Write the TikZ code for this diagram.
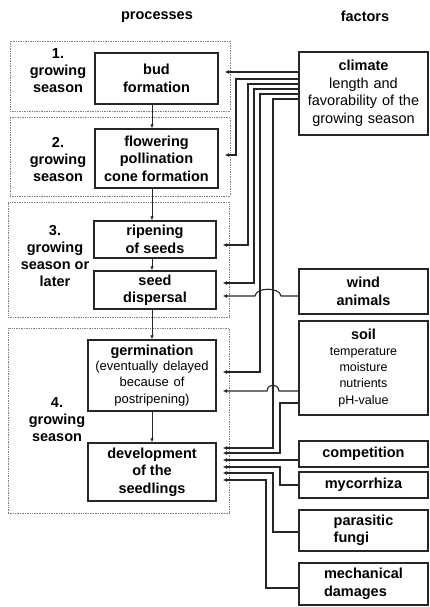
\documentclass[tikz,border=0pt]{standalone}
\usepackage{fontspec}
\setmainfont{Liberation Sans}
\usetikzlibrary{%
	positioning,
	arrows.meta
}

\begin{document}
\begin{tikzpicture}[
		x=1pt,y=-1pt,
		PBox/.style={draw=black!85,line width=1.4pt,shape=rectangle,inner sep=0pt,align=center,font=\fontsize{14.5}{17.5}\selectfont\bfseries},
		FBox/.style={PBox,minimum width=129pt},
		phase/.style={draw=black!50,densely dotted,line width=0.7pt,inner sep=0pt},
		plabel/.style={align=center,inner sep=0pt,font=\fontsize{14.5}{17}\selectfont\bfseries},
		title/.style={inner sep=0pt,font=\fontsize{14.5}{17}\selectfont\bfseries},
		arr/.style={draw=black!85,line width=1.1pt,-{Latex[length=4.5pt,width=4pt]},shorten >=6pt},
		varr/.style={draw=black!85,line width=0.9pt,-{Latex[length=4pt,width=3.5pt]}}
	]
	\useasboundingbox (0,0) rectangle (429,607);
	
	\node (procT) [title] at (157,17) {processes};
	\node (factT) [title] at (365,16) {factors};
	
	%phases
	\node (ph1) [phase, minimum width=220pt, minimum height=70pt] at (120,76) {};
	\node (ph2) [phase, minimum width=220pt, minimum height=79pt] at (120,156.5) {};
	\node (ph3) [phase, minimum width=221pt, minimum height=115pt] at (118.5,259.5) {};
	\node (ph4) [phase, minimum width=221pt, minimum height=185pt] at (118.5,420.5) {};
	
	\node (lab1) [plabel] at (58,71) {1.\\growing\\season};
	\node (lab2) [plabel] at (58,160) {2.\\growing\\season};
	\node (lab3) [plabel] at (55,256) {3.\\growing\\season or\\later};
	\node (lab4) [plabel] at (57,420) {4.\\growing\\season};
	
	%processes
	\node (bud) [PBox, minimum width=123pt, minimum height=51pt] at (156.5,78.5) {bud\\formation};
	\node (flow) [PBox, minimum width=123pt, minimum height=59pt] at (156.5,158.5) {flowering\\pollination\\cone formation};
	\node (ripe) [PBox, minimum width=122pt, minimum height=37pt] at (155,239.5) {ripening\\of seeds};
	\node (seed) [PBox, minimum width=122pt, minimum height=38pt] at (155,290) {seed\\dispersal};
	\node (germ) [PBox, text width=128pt, minimum height=71pt] at (152,375.5) {germination\\ \mdseries\fontsize{13}{15.5}\selectfont (eventually delayed\\ because of\\ postripening)};
	\node (dev) [PBox, minimum width=128pt, minimum height=58pt] at (152,472) {development\\of the\\seedlings};
	
	\coordinate (axis) at (152,0);
	\draw[varr] (axis |- bud.south) -- (axis |- flow.north);
	\draw[varr] (axis |- flow.south) -- (axis |- ripe.north);
	\draw[varr] (axis |- ripe.south) -- (axis |- seed.north);
	\draw[varr] (axis |- seed.south) -- (axis |- germ.north);
	\draw[varr] (axis |- germ.south) -- (axis |- dev.north);
	
	%factors
	\node (climate) [FBox, text width=129pt, minimum height=83pt] at (363.5,93.5) {climate\\ \mdseries length and\\ favorability of the\\ growing season};
	\node (wind) [FBox, minimum height=45pt] at (363.5,291.5) {wind\\animals};
	\node (soil) [FBox, text width=129pt, minimum height=94pt] at (363.5,368) {soil\\ \mdseries\fontsize{12.5}{16}\selectfont temperature\\ moisture\\ nutrients\\ pH-value};
	\node (comp) [FBox, minimum height=26pt] at (363.5,454) {competition};
	\node (myc) [FBox, minimum height=26pt] at (363.5,485) {mycorrhiza};
	\node (para) [FBox, align=left, minimum height=41pt] at (363.5,530.5) {parasitic\\fungi};
	\node (mech) [FBox, align=left, minimum height=42pt] at (363.5,584) {mechanical\\damages};
	
	%climate
	\draw[arr] (climate.west |- 0,72) -- (bud.east |- 0,72);
	\draw[arr] (climate.west |- 0,79) -- (236,79) |- (flow.east |- 0,155);
	\draw[arr] (climate.west |- 0,84) -- (248,84) |- (ripe.east |- 0,245);
	\draw[arr] (climate.west |- 0,89) -- (254,89) |- (seed.east |- 0,283);
	\draw[arr] (climate.west |- 0,94) -- (260,94) |- (germ.east |- 0,372);
	\draw[arr] (climate.west |- 0,99) -- (273,99) |- (dev.east |- 0,448);
	
	%wind, soil
	\draw[arr] (wind.west |- 0,296) -- (281,296) .. controls (280,287) and (256,287) .. (255,296) -- (seed.east |- 0,296);
	\draw[arr] (soil.west |- 0,391) -- (279,391) .. controls (278,383) and (268,383) .. (267,391) -- (germ.east |- 0,391);
	\draw[arr] (soil.west |- 0,403) -- (280,403) |- (dev.east |- 0,453);
	
	%others
	\draw[arr] (comp.west |- 0,460) -- (dev.east |- 0,460);
	\draw[arr] (myc.west) -- (280,485) |- (dev.east |- 0,467);
	\draw[arr] (para.west |- 0,532) -- (273,532) |- (dev.east |- 0,473);
	\draw[arr] (mech.west |- 0,588) -- (266,588) |- (dev.east |- 0,480);
	
\end{tikzpicture}
\end{document}
